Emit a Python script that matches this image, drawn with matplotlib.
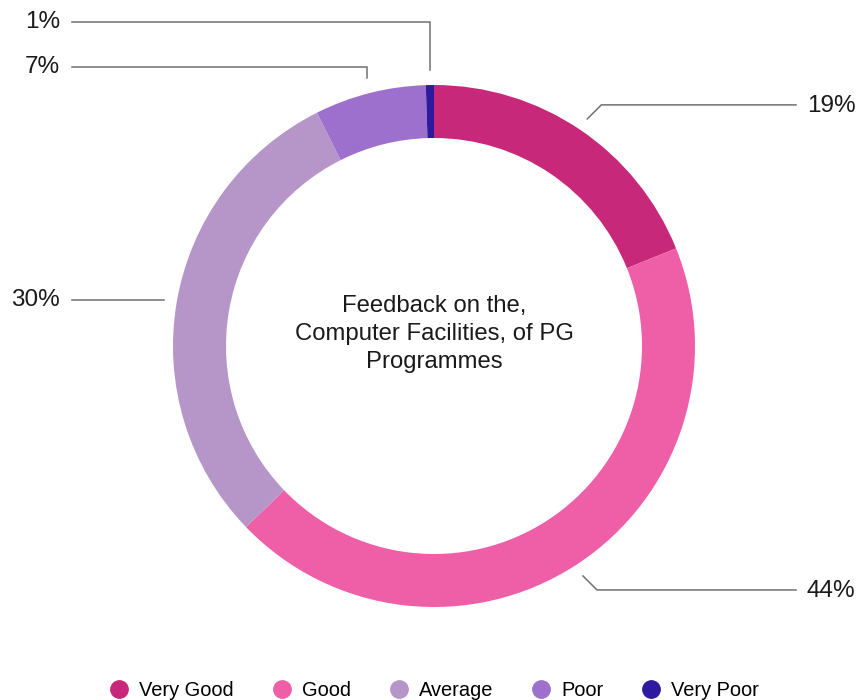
import numpy as np
import matplotlib
matplotlib.use("Agg")
import matplotlib.pyplot as plt
from matplotlib.lines import Line2D

plt.rcParams['font.family'] = ['Liberation Sans', 'DejaVu Sans']

# data
categories = ['Very Good', 'Good', 'Average', 'Poor', 'Very Poor']
values = [18.9, 43.9, 29.8, 6.9, 0.5]
pct_labels = ['19%', '44%', '30%', '7%', '1%']
colors = ['#C8287A', '#EE5FA7', '#B696C8', '#9C70CC', '#2D1A9E']
title = 'Feedback on the,\nComputer Facilities, of PG\nProgrammes'

W, H = 857, 700
fig = plt.figure(figsize=(W / 100, H / 100), dpi=100)
ax = fig.add_axes([0, 0, 1, 1])

cx, cy, R = 434, 346, 261
wedges, _ = ax.pie(values, colors=colors, startangle=-90, counterclock=True,
                   radius=R, center=(cx, cy),
                   wedgeprops=dict(width=53, linewidth=0))
ax.set_xlim(0, W)
ax.set_ylim(H, 0)
ax.set_aspect('equal')
ax.axis('off')

ax.text(cx, 334, title, ha='center', va='center', fontsize=17.2,
        color='#1a1a1a', linespacing=1.38)

# leader lines: route type and label row for each slice
routes = ['right', 'right', 'left', 'up', 'up']
label_rows = [None, None, None, 67, 22]
lc = '#707070'
for w, lab, route, row in zip(wedges, pct_labels, routes, label_rows):
    a = np.deg2rad((w.theta1 + w.theta2) / 2)
    ax0, ay0 = cx + 274 * np.cos(a), cy + 274 * np.sin(a)
    if route == 'right':
        ex = ax0 + 14
        ey = ay0 + 14 * np.sign(np.sin(a))
        xs, ys = [ax0, ex, 796], [ay0, ey, ey]
        ax.text(807, ey + 1, lab, ha='left', va='center', fontsize=17.5, color='#1a1a1a')
    elif route == 'left':
        xs, ys = [ax0, 72], [ay0, ay0]
        ax.text(60, ay0, lab, ha='right', va='center', fontsize=17.5, color='#1a1a1a')
    else:
        xs, ys = [ax0, ax0, 72], [ay0 - 2, row, row]
        ax.text(60, row, lab, ha='right', va='center', fontsize=17.5, color='#1a1a1a')
    ax.plot(xs, ys, color=lc, lw=1.1, solid_joinstyle='miter')

handles = [Line2D([], [], marker='o', ls='', markersize=12.5, color=c) for c in colors]
ax.legend(handles, categories, loc='center', bbox_to_anchor=(434 / W, 1 - 690 / H),
          ncol=5, frameon=False, fontsize=14.4, handlelength=1.0,
          handletextpad=0.5, columnspacing=1.9, borderpad=0, borderaxespad=0)

fig.savefig('out.png', dpi=100)
